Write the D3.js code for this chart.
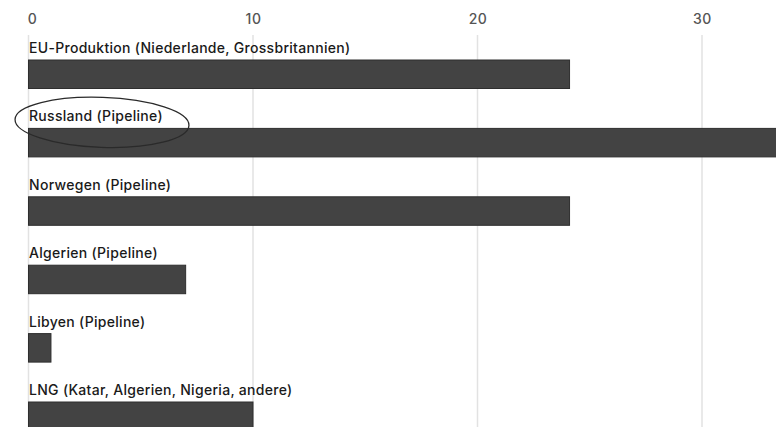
<!DOCTYPE html>
<html><head><meta charset="utf-8">
<script src="https://cdn.jsdelivr.net/npm/d3@7"></script>
<style>
html,body{margin:0;padding:0;background:#fff;overflow:hidden}
svg{display:block}
</style></head>
<body>
<svg id="c" width="776" height="427"></svg>
<script>
const categories = ["EU-Produktion (Niederlande, Grossbritannien)","Russland (Pipeline)","Norwegen (Pipeline)","Algerien (Pipeline)","Libyen (Pipeline)","LNG (Katar, Algerien, Nigeria, andere)"];
const values = [24.1, 40, 24.1, 7, 1, 10];
const tickValues = [0, 10, 20, 30];

const svg = d3.select("#c");
const W = 776, H = 427;
const x = d3.scaleLinear().domain([0, 10]).range([28.5, 253]);
const y = d3.scaleBand().domain(categories).range([60, 430.5]).paddingInner(1 - 28.5/68.4).paddingOuter(0).align(0);

const font = "Inter, 'Liberation Sans', Arial, sans-serif";

// grid lines
svg.append("g").selectAll("line").data(tickValues).join("line")
  .attr("x1", d => x(d)).attr("x2", d => x(d))
  .attr("y1", 35).attr("y2", H)
  .attr("stroke", "#e2e2e2").attr("stroke-width", 1.5);

// top axis labels
const ax = svg.append("g").attr("transform", "translate(0,24)")
  .call(d3.axisTop(x).tickValues(tickValues).tickSize(0).tickPadding(0).tickFormat(d3.format("d")));
ax.select(".domain").remove();
ax.selectAll("text").attr("font-family", font).attr("font-size", 14).attr("font-weight", 500).attr("fill", "#555")
  .attr("letter-spacing", 0.5)
  .attr("dy", 0).attr("text-anchor", "middle")
  .attr("dx", d => d === 0 ? 3.5 : 0);

// bars
svg.append("g").selectAll("rect").data(categories).join("rect")
  .attr("x", x(0)).attr("y", d => y(d))
  .attr("width", (d, i) => Math.max(0, x(values[i]) - x(0)))
  .attr("height", y.bandwidth())
  .attr("fill", "#434343").attr("stroke", "#2e2e2e").attr("stroke-width", 1);

// labels
svg.append("g").selectAll("text").data(categories).join("text")
  .attr("x", x(0) + 0.5).attr("y", d => y(d) - 7)
  .attr("font-family", font).attr("font-size", 14).attr("font-weight", 500).attr("fill", "#1a1a1a")
  .attr("letter-spacing", 0.3)
  .text(d => d);

// ellipse highlight around Russland
svg.append("ellipse")
  .attr("cx", 102).attr("cy", y(categories[1]) - 6)
  .attr("rx", 87).attr("ry", 25)
  .attr("transform", `rotate(2,102,${y(categories[1]) - 6})`)
  .attr("fill", "none").attr("stroke", "#2a2a2a").attr("stroke-width", 1.3);
</script>
</body></html>
